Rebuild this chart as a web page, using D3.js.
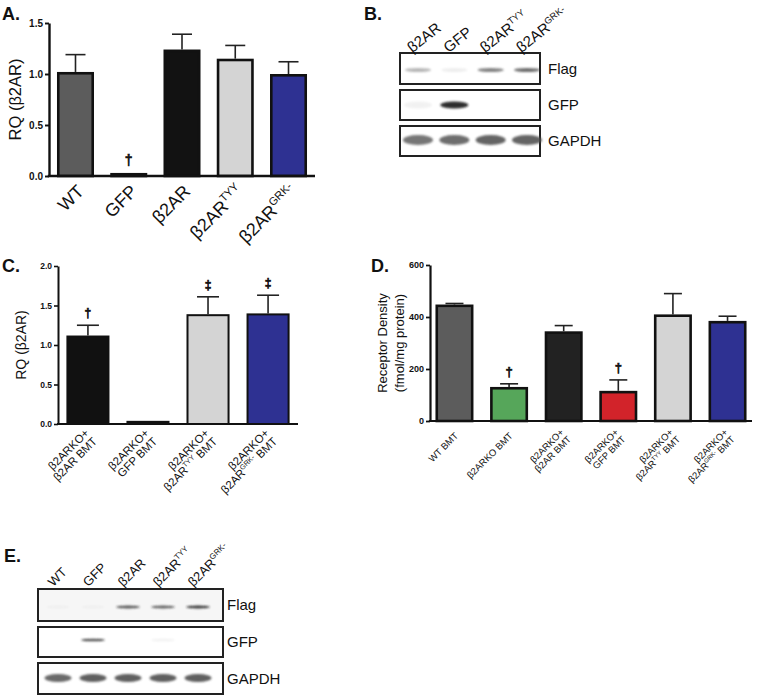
<!DOCTYPE html>
<html>
<head>
<meta charset="utf-8">
<script src="https://cdn.jsdelivr.net/npm/d3@7"></script>
<style>
  body { margin: 0; background: #fff; }
  text { font-family: "Liberation Sans", Arial, Helvetica, sans-serif; fill: #111; }
</style>
</head>
<body>
<div id="fig"></div>
<script>
// ---- data ----
// panel A: RQ (β2AR)
const aGroups = ["WT", "GFP", "β2AR", "β2AR^{TYY}", "β2AR^{GRK-}"];
const aMeans = [1.02, 0.03, 1.24, 1.15, 1.00];
const aErrs = [0.17, 0, 0.15, 0.13, 0.12];
const aMarks = ["", "†", "", "", ""];
const aTicks = [0, 0.5, 1.0, 1.5];

// panel B: western blot
const bLanes = ["β2AR", "GFP", "β2AR^{TYY}", "β2AR^{GRK-}"];
const bFlag = [0.35, 0.08, 0.6, 0.7];
const bGfp = [0.06, 0.95, 0, 0];
const bGapdh = [0.75, 0.8, 0.85, 0.85];

// panel C: RQ (β2AR) after BMT
const cGroups = ["β2ARKO+\nβ2AR BMT", "β2ARKO+\nGFP BMT", "β2ARKO+\nβ2AR^{TYY} BMT", "β2ARKO+\nβ2AR^{GRK-} BMT"];
const cMeans = [1.12, 0.04, 1.39, 1.40];
const cErrs = [0.13, 0, 0.22, 0.23];
const cMarks = ["†", "", "‡", "‡"];
const cTicks = [0, 0.5, 1.0, 1.5, 2.0];

// panel D: receptor density
const dGroups = ["WT BMT", "β2ARKO BMT", "β2ARKO+\nβ2AR BMT", "β2ARKO+\nGFP BMT", "β2ARKO+\nβ2AR^{TYY} BMT", "β2ARKO+\nβ2AR^{GRK-} BMT"];
const dMeans = [448, 131, 345, 116, 410, 385];
const dErrs = [4, 12, 22, 42, 80, 18];
const dMarks = ["", "†", "", "†", "", ""];
const dTicks = [0, 200, 400, 600];

// panel E: western blot
const eLanes = ["WT", "GFP", "β2AR", "β2AR^{TYY}", "β2AR^{GRK-}"];
const eFlag = [0.03, 0.03, 0.75, 0.7, 0.9];
const eGfp = [0, 0.8, 0, 0.06, 0];
const eGapdh = [0.8, 0.85, 0.85, 0.85, 0.85];

// ---- styles ----
const colA = ["#5c5c5c", "#111111", "#121212", "#d4d4d4", "#2e3192"];
const colC = ["#111111", "#111111", "#d4d4d4", "#2e3192"];
const colD = ["#5c5c5c", "#56a65a", "#222222", "#d2232a", "#d4d4d4", "#2e3192"];

const svg = d3.select("#fig").append("svg")
    .attr("width", 757).attr("height", 696);

svg.append("defs").append("filter").attr("id", "blur")
    .attr("x", "-50%").attr("y", "-100%").attr("width", "200%").attr("height", "300%")
  .append("feGaussianBlur").attr("stdDeviation", 1.3);

// text with ^{superscript} parts
function richText(t, str, fs) {
  const parts = str.split(/(\^\{[^}]*\})/).filter(s => s.length);
  let up = false;
  parts.forEach(p => {
    const sup = p.startsWith("^{");
    const ts = t.append("tspan").text(sup ? p.slice(2, -1) : p);
    if (sup) { ts.attr("font-size", fs * 0.62).attr("dy", -fs * 0.42); up = true; }
    else if (up) { ts.attr("dy", fs * 0.42); up = false; }
  });
}

function rotLabel(g, str, px, py, angle, fs, anchor, lh) {
  const lines = str.split("\n");
  lines.forEach((ln, i) => {
    const t = g.append("text")
        .attr("transform", `translate(${px},${py}) rotate(${angle})`)
        .attr("text-anchor", anchor).attr("font-size", fs)
        .attr("x", 0)
        .attr("y", (i - (lines.length - 1) / 2) * lh + fs * 0.35);
    richText(t, ln, fs);
  });
}

function panelLetter(s, x, y) {
  svg.append("text").attr("x", x).attr("y", y).attr("font-size", 18)
      .attr("font-weight", "bold").text(s);
}

function barPanel(o) {
  const g = svg.append("g");
  const x = d3.scaleBand().domain(o.cats).range([o.x0, o.x1])
      .paddingInner(o.pIn).paddingOuter(o.pOut);
  const y = d3.scaleLinear().domain([0, o.yMax]).range([o.yBot, o.yTop]);

  // bars
  const bw = x.bandwidth(), sw = o.sw;
  g.selectAll("rect.bar").data(o.cats).join("rect").attr("class", "bar")
      .attr("x", d => x(d) + sw / 2)
      .attr("y", (d, i) => y(o.means[i]) + sw / 2)
      .attr("width", bw - sw)
      .attr("height", (d, i) => Math.max(0, o.yBot - y(o.means[i]) - sw / 2))
      .attr("fill", (d, i) => o.colors[i])
      .attr("stroke", "#111").attr("stroke-width", sw);

  // error bars (upper only)
  o.cats.forEach((c, i) => {
    if (!o.errs[i]) return;
    const cx = x(c) + bw / 2, top = y(o.means[i] + o.errs[i]);
    g.append("line").attr("x1", cx).attr("x2", cx)
        .attr("y1", y(o.means[i])).attr("y2", top)
        .attr("stroke", "#222").attr("stroke-width", 1.6);
    g.append("line").attr("x1", cx - o.capW / 2).attr("x2", cx + o.capW / 2)
        .attr("y1", top).attr("y2", top)
        .attr("stroke", "#222").attr("stroke-width", 1.6);
  });

  // significance marks
  o.cats.forEach((c, i) => {
    if (!o.marks[i]) return;
    g.append("text").attr("x", x(c) + bw / 2)
        .attr("y", y(o.means[i] + o.errs[i]) - o.markGap)
        .attr("text-anchor", "middle").attr("font-size", o.markFs)
        .style("fill", "#111").style("stroke", "#111").style("stroke-width", 0.7)
        .text(o.marks[i]);
  });

  // axes
  const ya = g.append("g").attr("transform", `translate(${o.x0},0)`)
      .call(d3.axisLeft(y).tickValues(o.ticks).tickFormat(d3.format(o.fmt))
          .tickSize(4).tickSizeOuter(0).tickPadding(2));
  ya.select(".domain").attr("stroke", "#111").attr("stroke-width", o.axW);
  ya.selectAll(".tick line").attr("stroke", "#111").attr("stroke-width", o.axW * 0.8);
  ya.selectAll(".tick text").attr("font-size", o.tickFs).attr("font-weight", "bold")
      .attr("fill", "#111").style("font-family", '"Liberation Sans", Arial, sans-serif');
  g.append("line").attr("x1", o.x0 - o.axW / 2).attr("x2", o.x1)
      .attr("y1", o.yBot).attr("y2", o.yBot)
      .attr("stroke", "#111").attr("stroke-width", o.axW);

  // y title
  const tl = o.title.split("\n");
  tl.forEach((ln, i) => {
    g.append("text")
        .attr("transform", `translate(${o.titleX},${(o.yTop + o.yBot) / 2}) rotate(-90)`)
        .attr("text-anchor", "middle").attr("font-size", o.titleFs)
        .attr("y", (i - (tl.length - 1) / 2) * o.titleLh + o.titleFs * 0.35).text(ln);
  });

  // category labels
  o.cats.forEach(c => {
    rotLabel(g, c, x(c) + bw / 2 + o.labDx, o.yBot + o.labDy, -45, o.labFs, "end", o.labLh);
  });
}

function blotPanel(o) {
  const g = svg.append("g");
  const lx = d3.scalePoint().domain(o.lanes).range([o.first, o.last]);
  o.rows.forEach(r => {
    g.append("rect").attr("x", o.x0).attr("y", r.y0)
        .attr("width", o.x1 - o.x0).attr("height", r.y1 - r.y0)
        .attr("fill", r.bg || "#fff").attr("stroke", "#222").attr("stroke-width", 2);
    g.selectAll(null).data(o.lanes).join("ellipse")
        .attr("cx", d => lx(d))
        .attr("cy", r.band)
        .attr("rx", r.w / 2).attr("ry", r.h / 2)
        .attr("fill", r.ink)
        .attr("opacity", (d, i) => r.vals[i])
        .attr("filter", "url(#blur)");
    g.append("text").attr("x", o.labX).attr("y", (r.y0 + r.y1) / 2 + 5)
        .attr("font-size", 15).text(r.name);
  });
  o.lanes.forEach(l => {
    rotLabel(g, l, lx(l) + o.colDx, o.colY, o.angle, o.colFs, "start", 0);
  });
}

// ---- panel A ----
panelLetter("A.", 2, 20);
barPanel({
  cats: aGroups, means: aMeans, errs: aErrs, marks: aMarks, ticks: aTicks,
  fmt: ".1f", yMax: 1.5, x0: 49, x1: 315, yTop: 23, yBot: 176,
  pIn: 0.305, pOut: 0.15, colors: colA, sw: 2.6, axW: 2.4, tickFs: 10,
  capW: 20, markFs: 14, markGap: 8,
  title: "RQ (β2AR)", titleX: 15, titleFs: 16.5, titleLh: 0,
  labFs: 18, labLh: 18, labDx: 5, labDy: 12
});

// ---- panel B ----
panelLetter("B.", 364, 20);
blotPanel({
  lanes: bLanes, first: 418, last: 527, x0: 400, x1: 540, labX: 548,
  colDx: -9, colY: 49, angle: -38, colFs: 15,
  rows: [
    { name: "Flag", y0: 53, y1: 84, band: 70, w: 26, h: 4, vals: bFlag, ink: "#333" },
    { name: "GFP", y0: 90, y1: 120, band: 105, w: 28, h: 7, vals: bGfp, ink: "#222" },
    { name: "GAPDH", y0: 126, y1: 156, band: 140, w: 30, h: 10, vals: bGapdh, ink: "#4a4a4a" }
  ]
});

// ---- panel C ----
panelLetter("C.", 2, 272);
barPanel({
  cats: cGroups, means: cMeans, errs: cErrs, marks: cMarks, ticks: cTicks,
  fmt: ".1f", yMax: 2.0, x0: 58, x1: 298, yTop: 266, yBot: 424,
  pIn: 0.283, pOut: 0.14, colors: colC, sw: 2, axW: 2, tickFs: 8.5,
  capW: 22, markFs: 12, markGap: 8,
  title: "RQ (β2AR)", titleX: 21, titleFs: 14, titleLh: 0,
  labFs: 11.5, labLh: 11.5, labDx: 3, labDy: 11
});

// ---- panel D ----
panelLetter("D.", 371, 272);
barPanel({
  cats: dGroups, means: dMeans, errs: dErrs, marks: dMarks, ticks: dTicks,
  fmt: "d", yMax: 600, x0: 430, x1: 752, yTop: 265, yBot: 421,
  pIn: 0.304, pOut: 0.1, colors: colD, sw: 2.6, axW: 2.2, tickFs: 9,
  capW: 18, markFs: 13, markGap: 8,
  title: "Receptor Density\n(fmol/mg protein)", titleX: 391, titleFs: 13, titleLh: 17,
  labFs: 9.5, labLh: 10, labDx: 2, labDy: 13
});

// ---- panel E ----
panelLetter("E.", 4, 562);
blotPanel({
  lanes: eLanes, first: 58, last: 198, x0: 38, x1: 223, labX: 227,
  colDx: -8, colY: 584, angle: -45, colFs: 13,
  rows: [
    { name: "Flag", y0: 589, y1: 621, band: 607, w: 24, h: 3, vals: eFlag, bg: "#f6f6f6", ink: "#222" },
    { name: "GFP", y0: 627, y1: 657, band: 640, w: 24, h: 2.5, vals: eGfp, ink: "#222" },
    { name: "GAPDH", y0: 663, y1: 694, band: 678, w: 27, h: 8, vals: eGapdh, ink: "#444" }
  ]
});
</script>
</body>
</html>
